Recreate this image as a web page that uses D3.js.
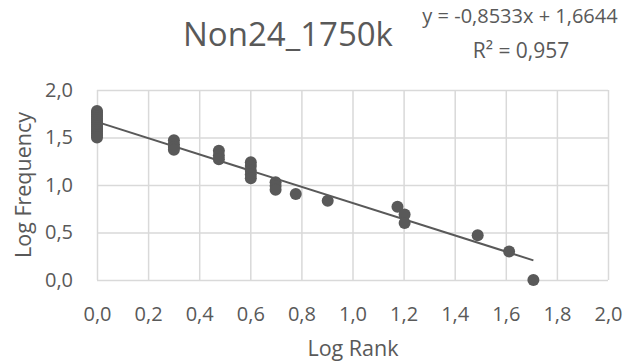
<!DOCTYPE html>
<html>
<head>
<meta charset="utf-8">
<title>Non24_1750k</title>
<script src="https://cdn.jsdelivr.net/npm/d3@7"></script>
<style>
  body { margin: 0; background: #fff; }
  text { font-family: "Open Sans", sans-serif; fill: #595959; }
  .grid line { stroke: #d9d9d9; stroke-width: 1.5; }
  .grid path { display: none; }
  .axis path, .axis line { display: none; }
</style>
</head>
<body>
<script>
// data (log rank, log frequency)
var logRank = [0,0,0,0,0,0,0,0,0,0,0,0,0,0,0,
               0.301,0.301,0.301,0.301,
               0.477,0.477,0.477,
               0.602,0.602,0.602,0.602,0.602,
               0.699,0.699,0.699,
               0.778, 0.903, 1.176, 1.204, 1.204, 1.49, 1.613, 1.708];
var logFreq = [1.78,1.76,1.74,1.72,1.70,1.68,1.66,1.64,1.62,1.60,1.58,1.56,1.54,1.52,1.50,
               1.47,1.43,1.40,1.37,
               1.36,1.31,1.27,
               1.24,1.20,1.15,1.11,1.07,
               1.03,0.99,0.95,
               0.905, 0.835, 0.77, 0.69, 0.60, 0.47, 0.30, 0.0];
var slope = -0.8533, intercept = 1.6644;
var xTicks = [0,0.2,0.4,0.6,0.8,1.0,1.2,1.4,1.6,1.8,2.0];
var yTicks = [0,0.5,1.0,1.5,2.0];

var width = 626, height = 363;
var m = {left: 97, right: 18, top: 90, bottom: 83};

var svg = d3.select("body").append("svg")
  .attr("width", width).attr("height", height);

var x = d3.scaleLinear().domain([0, 2]).range([m.left, width - m.right]);
var y = d3.scaleLinear().domain([0, 2]).range([height - m.bottom, m.top]);
var fmt = function(d){ return d3.format(".1f")(d).replace(".", ","); };

// grid
svg.append("g").attr("class", "grid")
  .attr("transform", "translate(0," + (height - m.bottom) + ")")
  .call(d3.axisBottom(x).tickValues(xTicks).tickSize(-(height - m.top - m.bottom)).tickFormat(""));
svg.append("g").attr("class", "grid")
  .attr("transform", "translate(" + m.left + ",0)")
  .call(d3.axisLeft(y).tickValues(yTicks).tickSize(-(width - m.left - m.right)).tickFormat(""));

// axes labels
var xa = svg.append("g").attr("class", "axis")
  .attr("transform", "translate(0," + (height - m.bottom + 24) + ")")
  .call(d3.axisBottom(x).tickValues(xTicks).tickFormat(fmt).tickSize(0));
var ya = svg.append("g").attr("class", "axis")
  .attr("transform", "translate(" + (m.left - 21) + ",0)")
  .call(d3.axisLeft(y).tickValues(yTicks).tickFormat(fmt).tickSize(0));
xa.attr("font-size", 20).attr("font-family", "Open Sans");
ya.attr("font-size", 20).attr("font-family", "Open Sans");

// trend line
svg.append("line")
  .attr("x1", x(0)).attr("y1", y(intercept))
  .attr("x2", x(d3.max(logRank))).attr("y2", y(intercept + slope * d3.max(logRank)))
  .attr("stroke", "#595959").attr("stroke-width", 2);

// points
svg.selectAll("circle.pt")
  .data(logRank.map(function(d, i){ return {x: d, y: logFreq[i]}; }))
  .enter().append("circle")
  .attr("class", "pt")
  .attr("cx", function(d){ return x(d.x); })
  .attr("cy", function(d){ return y(d.y); })
  .attr("r", 6)
  .attr("fill", "#595959");

// titles
svg.append("text").attr("x", 288).attr("y", 46)
  .attr("text-anchor", "middle").attr("font-size", 33).text("Non24_1750k");
svg.append("text").attr("x", 520).attr("y", 23)
  .attr("text-anchor", "middle").attr("font-size", 20).text("y = -0,8533x + 1,6644");
svg.append("text").attr("x", 521).attr("y", 58)
  .attr("text-anchor", "middle").attr("font-size", 21).text("R² = 0,957");
svg.append("text").attr("x", 353).attr("y", 356)
  .attr("text-anchor", "middle").attr("font-size", 21.5).text("Log Rank");
svg.append("text")
  .attr("transform", "translate(31," + 185 + ") rotate(-90)")
  .attr("text-anchor", "middle").attr("font-size", 21.5).text("Log Frequency");
</script>
</body>
</html>
